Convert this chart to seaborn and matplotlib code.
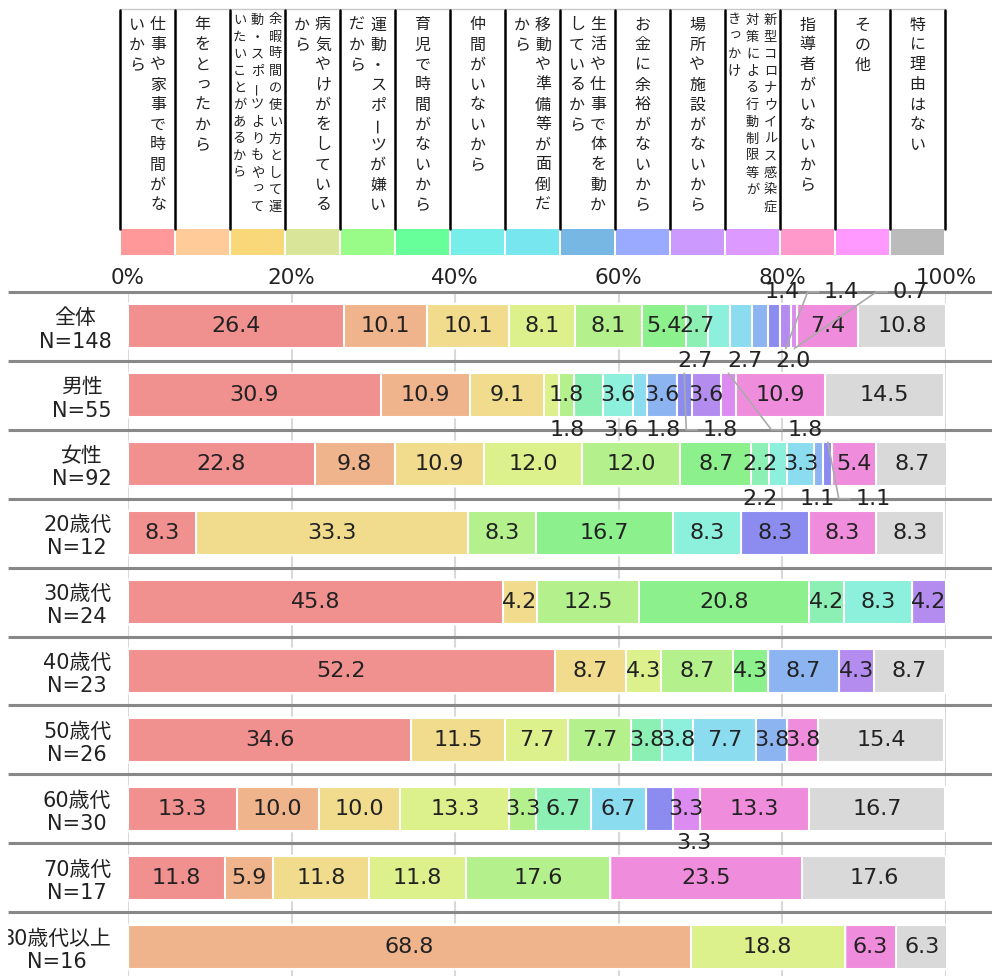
import matplotlib
matplotlib.use("Agg")
import matplotlib.pyplot as plt
from matplotlib.patches import Rectangle
import pandas as pd
import seaborn as sns

# reasons for not doing sport (column order of the stacked bars)
reasons = [
    "仕事や家事で時間がないから",
    "年をとったから",
    "余暇時間の使い方として運動・スポーツよりもやっていたいことがあるから",
    "病気やけがをしているから",
    "運動・スポーツが嫌いだから",
    "育児で時間がないから",
    "仲間がいないから",
    "移動や準備等が面倒だから",
    "生活や仕事で体を動かしているから",
    "お金に余裕がないから",
    "場所や施設がないから",
    "新型コロナウイルス感染症対策による行動制限等がきっかけ",
    "指導者がいないから",
    "その他",
    "特に理由はない",
]
# how the header cells break the text into vertical columns (right to left)
header_cols = [
    ["仕事や家事で時間がな", "いから"],
    ["年をとったから"],
    ["余暇時間の使い方として運", "動・スポーツよりもやって", "いたいことがあるから"],
    ["病気やけがをしている", "から"],
    ["運動・スポーツが嫌い", "だから"],
    ["育児で時間がないから"],
    ["仲間がいないから"],
    ["移動や準備等が面倒だ", "から"],
    ["生活や仕事で体を動か", "しているから"],
    ["お金に余裕がないから"],
    ["場所や施設がないから"],
    ["新型コロナウイルス感染症", "対策による行動制限等が", "きっかけ"],
    ["指導者がいないから"],
    ["その他"],
    ["特に理由はない"],
]

groups = ["全体", "男性", "女性", "20歳代", "30歳代", "40歳代", "50歳代", "60歳代", "70歳代", "80歳代以上"]
sizes = [148, 55, 92, 12, 24, 23, 26, 30, 17, 16]

total = [26.4, 10.1, 10.1, 8.1, 8.1, 5.4, 2.7, 2.7, 2.7, 2.0, 1.4, 1.4, 0.7, 7.4, 10.8]
male = [30.9, 10.9, 9.1, 1.8, 1.8, 0.0, 3.6, 3.6, 1.8, 3.6, 1.8, 3.6, 1.8, 10.9, 14.5]
female = [22.8, 9.8, 10.9, 12.0, 12.0, 8.7, 2.2, 2.2, 3.3, 1.1, 1.1, 0.0, 0.0, 5.4, 8.7]
age20 = [8.3, 0.0, 33.3, 0.0, 8.3, 16.7, 0.0, 8.3, 0.0, 0.0, 8.3, 0.0, 0.0, 8.3, 8.3]
age30 = [45.8, 0.0, 4.2, 0.0, 12.5, 20.8, 4.2, 8.3, 0.0, 0.0, 0.0, 4.2, 0.0, 0.0, 0.0]
age40 = [52.2, 0.0, 8.7, 4.3, 8.7, 4.3, 0.0, 0.0, 0.0, 8.7, 0.0, 4.3, 0.0, 0.0, 8.7]
age50 = [34.6, 0.0, 11.5, 7.7, 7.7, 0.0, 3.8, 3.8, 7.7, 3.8, 0.0, 0.0, 0.0, 3.8, 15.4]
age60 = [13.3, 10.0, 10.0, 13.3, 3.3, 0.0, 6.7, 0.0, 6.7, 0.0, 3.3, 0.0, 3.3, 13.3, 16.7]
age70 = [11.8, 5.9, 11.8, 11.8, 17.6, 0.0, 0.0, 0.0, 0.0, 0.0, 0.0, 0.0, 0.0, 23.5, 17.6]
age80 = [0.0, 68.8, 0.0, 18.8, 0.0, 0.0, 0.0, 0.0, 0.0, 0.0, 0.0, 0.0, 0.0, 6.3, 6.3]

bar_colors = ["#f0908f", "#f0b48c", "#f0dc8c", "#dcf08c", "#b4f08c", "#8cf08c", "#8cf0b4",
              "#8cf0dc", "#8cdcf0", "#8cb4f0", "#8c8cf0", "#b48cf0", "#dc8cf0", "#f08cdc", "#d9d9d9"]
chip_colors = ["#ff9999", "#ffcc99", "#f8d878", "#d9e69a", "#99fc88", "#66ff99", "#77eeea",
               "#77e6ee", "#77b7e3", "#99aaff", "#cc99ff", "#dd99ff", "#ff99cc", "#ff99ff", "#bbbbbb"]

# labels of the thin segments that sit outside the bar: (row, reason) -> side, x nudge in px, leader
outside = {
    (0, 7): ("below", -24, False), (0, 8): ("below", 4, False), (0, 9): ("below", 33, False),
    (0, 10): ("above", 8, False), (0, 11): ("above", 56, True), (0, 12): ("above", 116, True),
    (1, 3): ("below", 15, False), (1, 6): ("below", 32, False), (1, 8): ("below", 23, False),
    (1, 10): ("below", 36, True), (1, 12): ("below", 77, True),
    (2, 7): ("below", -18, False), (2, 9): ("below", -2, False), (2, 10): ("below", 45, True),
    (7, 10): ("below", 35, False),
}

sns.set_style("white")
plt.rcParams["font.family"] = ["DejaVu Sans", "Noto Sans CJK JP"]
cjk = ["Noto Sans CJK JP", "DejaVu Sans"]
ink = "#222222"

row_labels = [f"{g}\nN={n}" for g, n in zip(groups, sizes)]
df = pd.DataFrame([total, male, female, age20, age30, age40, age50, age60, age70, age80],
                  index=row_labels, columns=reasons)
cum = df.cumsum(axis=1)

W, H = 992, 976
fig = plt.figure(figsize=(W / 100, H / 100), dpi=100)

# bar area: 0..100% spans x 128..946 px, rows of 68.9 px from y 292 px
row_px = 68.9
ax_top, ax_left, ax_right = 292, 128, 946
y_bottom = -0.5 + (H - ax_top) / row_px
ax = fig.add_axes([ax_left / W, 0, (ax_right - ax_left) / W, (H - ax_top) / H])
ax.patch.set_visible(False)
ppx = (ax_right - ax_left) / 100.0  # pixels per percent

for j in range(len(reasons) - 1, -1, -1):
    sns.barplot(x=cum.iloc[:, j].to_numpy(), y=row_labels, orient="h", color=bar_colors[j],
                saturation=1, width=0.64, edgecolor="white", linewidth=1.5,
                errorbar=None, ax=ax, zorder=2)

ax.set_xlim(0, 100)
ax.set_ylim(y_bottom, -0.5)
ax.vlines(range(0, 101, 20), -0.5, y_bottom, color="#d9d9d9", lw=1.5, zorder=0.5)
ax.hlines([i - 0.5 for i in range(len(groups))], -(ax_left - 8) / ppx, 100 + (W - ax_right) / ppx,
          color="#888888", lw=2.2, zorder=3, clip_on=False)

for s in ax.spines.values():
    s.set_visible(False)
ax.xaxis.tick_top()
ax.set_xticks(range(0, 101, 20))
ax.set_xticklabels([f"{t}%" for t in range(0, 101, 20)])
ax.tick_params(axis="x", length=0, pad=3, labelsize=15.5, colors=ink)
ax.tick_params(axis="y", length=0, pad=12, labelsize=15, colors=ink)
for t in ax.get_yticklabels():
    t.set_multialignment("center")
    t.set_linespacing(1.2)
ax.set_xlabel("")
ax.set_ylabel("")

# value labels
lab_size = 16
half_w = 16 / ppx
for i in range(len(groups)):
    start = 0.0
    for j, v in enumerate(df.iloc[i]):
        if v <= 0:
            continue
        c = start + v / 2
        start += v
        txt = f"{v:.1f}"
        if (i, j) not in outside:
            ax.text(c, i, txt, ha="center", va="center", fontsize=lab_size, color=ink, zorder=4)
            continue
        side, dx, leader = outside[(i, j)]
        ly = i + 0.5 if side == "below" else i - 0.5
        ax.text(c + dx / ppx, ly, txt, ha="center", va="center", fontsize=lab_size, color=ink, zorder=4)
        if leader:
            left = c + dx / ppx - half_w
            edge = i - 0.32 if side == "below" else i + 0.32
            ax.plot([c, left - 18 / ppx, left - 7 / ppx], [edge, ly, ly],
                    color="#aaaaaa", lw=1.2, zorder=5, clip_on=False)

# header with vertical text cells and colour chips
axh = fig.add_axes([0, 0, 1, 1], zorder=-1)
axh.set_xlim(0, W)
axh.set_ylim(H, 0)
axh.axis("off")
cell_l, cell_w = 120, 55
axh.plot([cell_l, cell_l + cell_w * len(reasons)], [9, 9], color="#c8c8c8", lw=1)
small_kana = set("っッょゃゅィァェ")
for k, cols in enumerate(header_cols):
    x0 = cell_l + k * cell_w
    cx = x0 + cell_w / 2
    if len(cols) > 2:
        size, pitch, top = 9.5, 17.0, 20
    else:
        size, pitch, top = 11.5, 20.0, 25
    col_pitch = pitch + 1
    for n, line in enumerate(cols):
        x = cx + (len(cols) - 1) / 2 * col_pitch - n * col_pitch
        for m, ch in enumerate(line):
            y = top + m * pitch
            rot = 90 if ch == "ー" else 0
            ox, oy = (0.12 * size, -0.12 * size) if ch in small_kana else (0, 0)
            axh.text(x + ox, y + oy, ch, ha="center", va="center", fontsize=size,
                     family=cjk, color=ink, rotation=rot)
    axh.add_patch(Rectangle((x0 + 1, 229), cell_w - 2, 26, color=chip_colors[k], lw=0))
for k in range(len(reasons) + 1):
    x = cell_l + k * cell_w
    axh.plot([x, x], [10, 229], color="black", lw=1.8)

# clip the over-long row label at the left edge like the original
fig.add_artist(Rectangle((0, 0), 7 / W, 1, transform=fig.transFigure, color="white", zorder=10))

fig.savefig("out.png", dpi=100)
